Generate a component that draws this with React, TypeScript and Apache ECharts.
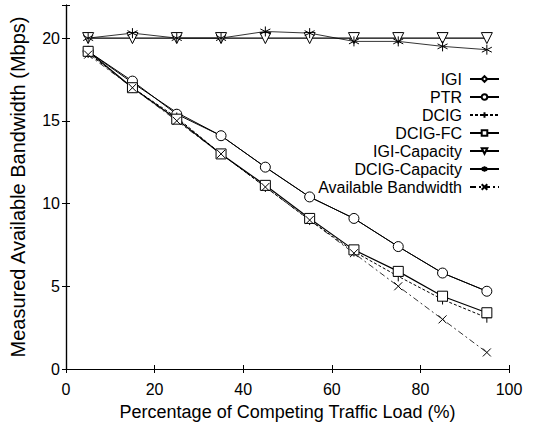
import React, { useEffect, useRef } from "react";
import * as echarts from "echarts";

const loads = [5, 15, 25, 35, 45, 55, 65, 75, 85, 95];
const igi = [19.2, 17.3, 15.5, 14.1, 12.2, 10.4, 9.1, 7.4, 5.8, 4.7];
const ptr = [19.2, 17.4, 15.4, 14.1, 12.2, 10.4, 9.1, 7.4, 5.8, 4.7];
const dcig = [19.1, 17.0, 15.2, 13.0, 11.0, 9.0, 7.1, 5.6, 4.2, 3.1];
const dcigFc = [19.2, 17.0, 15.1, 13.0, 11.1, 9.1, 7.2, 5.9, 4.4, 3.4];
const igiCap = [20.0, 20.0, 20.0, 20.0, 20.0, 20.0, 20.0, 20.0, 20.0, 20.0];
const dcigCap = [20.0, 20.3, 20.0, 20.0, 20.4, 20.3, 19.8, 19.8, 19.5, 19.3];
const availBw = [19.0, 17.0, 15.0, 13.0, 11.0, 9.0, 7.0, 5.0, 3.0, 1.0];

const xTicks = [0, 20, 40, 60, 80, 100];
const yTicks = [0, 5, 10, 15, 20];

const FONT = "Liberation Sans";

const SYM_DIAMOND = "path://M5,0 L10,5 L5,10 L0,5 Z";
const SYM_CIRCLE = "path://M10,5 A5,5 0 1 1 0,5 A5,5 0 1 1 10,5 Z";
const SYM_PLUS = "path://M5,0 L5,10 M0,5 L10,5";
const SYM_TRI = "path://M0,0 L10,0 L5,9 Z";
const SYM_STAR = "path://M5,0 L5,10 M0,2.5 L10,7.5 M0,7.5 L10,2.5";
const SYM_X = "path://M0,0 L10,10 M0,10 L10,0";

function mk(
  name: string,
  vals: number[],
  symbol: string,
  size: number,
  lineType: any,
  width: number
) {
  return {
    name,
    type: "line",
    data: loads.map((x, i) => [x, vals[i]]),
    symbol,
    symbolSize: size,
    showAllSymbol: true,
    color: "#000",
    lineStyle: { color: "#000", width, type: lineType },
    itemStyle: { color: "#fff", borderColor: "#000", borderWidth: 1 },
    emphasis: { disabled: true },
  };
}

export default function App() {
  const ref = useRef<HTMLDivElement>(null);
  useEffect(() => {
    document.body.style.margin = "0";
    if (!ref.current) return;
    const chart = echarts.init(ref.current, null, { renderer: "svg" });
    const axisCommon = {
      axisLine: { show: true, lineStyle: { color: "#000", width: 1.2 } },
      axisTick: { show: true, inside: true, length: 4, lineStyle: { color: "#000" } },
      splitLine: { show: false },
    };
    chart.setOption({
      animation: false,
      backgroundColor: "#fff",
      grid: { left: 56, right: 25, top: 5, bottom: 57, containLabel: false },
      legend: {
        right: 29,
        top: 66,
        orient: "vertical",
        align: "right",
        itemWidth: 29,
        itemHeight: 7,
        itemGap: 2,
        textStyle: { fontFamily: FONT, fontSize: 16, color: "#000", padding: [0, 3, 0, 0] },
        data: [
          "IGI",
          "PTR",
          "DCIG",
          "DCIG-FC",
          "IGI-Capacity",
          "DCIG-Capacity",
          "Available Bandwidth",
        ],
      },
      xAxis: [
        {
          type: "value",
          min: 0,
          max: 100,
          interval: 20,
          name: "Percentage of Competing Traffic Load (%)",
          nameLocation: "middle",
          nameGap: 34,
          nameTextStyle: { fontFamily: FONT, fontSize: 18, color: "#000" },
          axisLabel: {
            fontFamily: FONT,
            fontSize: 16,
            color: "#000",
            margin: 12,
            formatter: (v: number) => (xTicks.includes(v) ? String(v) : ""),
          },
          ...axisCommon,
        },
        {
          type: "value",
          min: 0,
          max: 100,
          interval: 20,
          position: "top",
          axisLabel: { show: false },
          ...axisCommon,
        },
      ],
      yAxis: [
        {
          type: "value",
          min: 0,
          max: 22,
          interval: 5,
          name: "Measured Available Bandwidth (Mbps)",
          nameLocation: "middle",
          nameGap: 38,
          nameTextStyle: { fontFamily: FONT, fontSize: 20, color: "#000" },
          axisLabel: {
            fontFamily: FONT,
            fontSize: 16,
            color: "#000",
            margin: 6,
            formatter: (v: number) => (yTicks.includes(v) ? String(v) : ""),
          },
          ...axisCommon,
        },
        {
          type: "value",
          min: 0,
          max: 22,
          interval: 5,
          position: "right",
          axisLabel: { show: false },
          ...axisCommon,
        },
      ],
      series: [
        mk("IGI", igi, SYM_DIAMOND, 7, "solid", 1),
        mk("PTR", ptr, SYM_CIRCLE, 10, "solid", 1),
        mk("DCIG", dcig, SYM_PLUS, 10, [3, 2], 1),
        mk("DCIG-FC", dcigFc, "rect", 10, "solid", 1.2),
        mk("IGI-Capacity", igiCap, SYM_TRI, 11, "solid", 1.4),
        mk("DCIG-Capacity", dcigCap, SYM_STAR, 10, "solid", 0.8),
        mk("Available Bandwidth", availBw, SYM_X, 8, [6, 3, 2, 3], 0.8),
      ],
    });
    return () => chart.dispose();
  }, []);
  return <div ref={ref} style={{ width: 534, height: 426 }} />;
}
